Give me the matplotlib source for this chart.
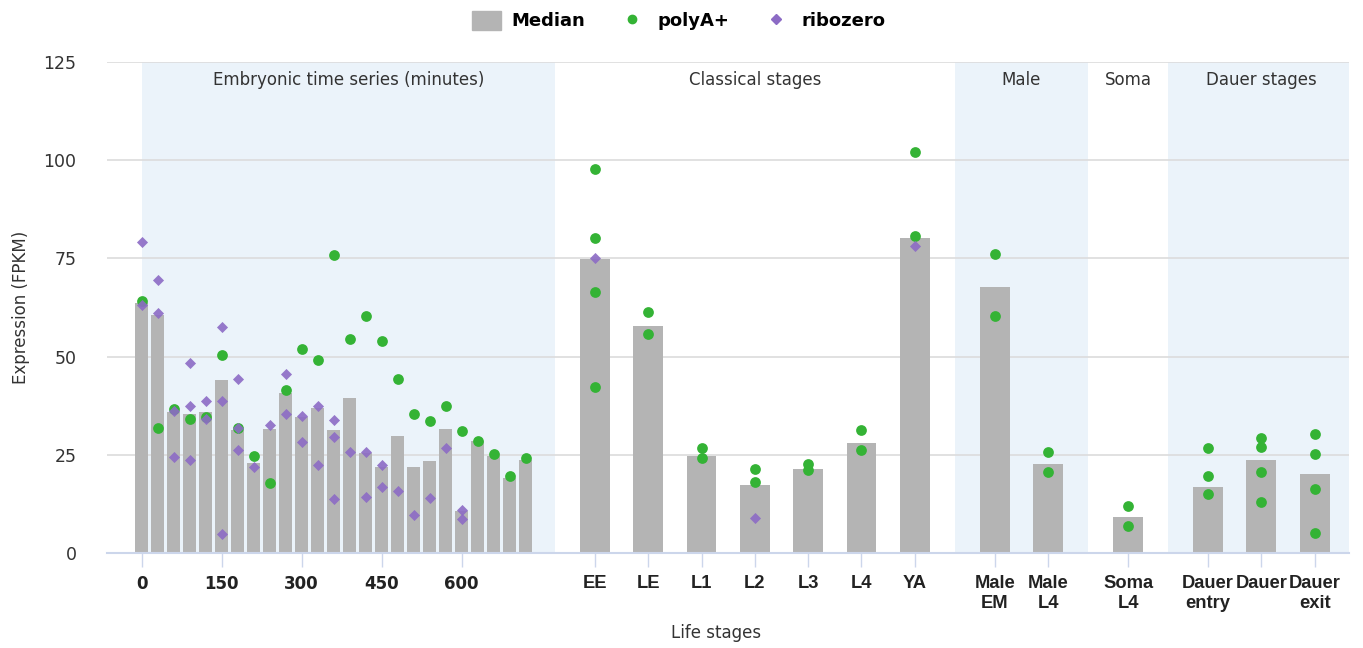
import numpy as np
import matplotlib
matplotlib.use("Agg")
from matplotlib import pyplot as plt
from matplotlib.lines import Line2D
from matplotlib.patches import Patch

# embryonic time series (minutes)
emb_minutes = [0, 30, 60, 90, 120, 150, 180, 210, 240, 270, 300, 330, 360,
               390, 420, 450, 480, 510, 540, 570, 600, 630, 660, 690, 720]
emb_median = [63.6, 60.6, 35.8, 35.4, 35.8, 44.1, 31.4, 22.9, 31.6, 40.7,
              34.6, 36.9, 31.2, 39.5, 25.4, 22.0, 29.7, 22.0, 23.4, 31.6,
              10.6, 28.4, 24.8, 19.2, 23.7]
emb_polya = [[64.2], [31.8], [36.6], [34.0], [34.6], [50.5], [31.9], [24.7],
             [17.8], [41.4], [52.0], [49.1], [75.8], [54.4], [60.3], [54.0],
             [44.3], [35.4], [33.6], [37.4], [31.1], [28.6], [25.3], [19.7],
             [24.3]]
emb_ribo = [[79.1, 63.2], [69.6, 61.0], [36.1, 24.4], [48.3, 37.5, 23.6],
            [38.6, 34.0], [57.5, 38.6, 4.9], [44.2, 31.8, 26.3], [22.0],
            [32.7], [45.5, 35.3], [34.8, 28.3], [37.5, 22.3],
            [33.9, 29.5, 13.8], [25.6], [25.8, 14.2], [22.5, 16.9], [15.7],
            [9.7], [14.1], [26.8], [11.0, 8.6], [], [], [], []]
emb_ticks = [0, 150, 300, 450, 600]

# other stages
groups = ["Classical stages", "Male", "Soma", "Dauer stages"]
group_sizes = [7, 2, 1, 3]
stage_labels = ["EE", "LE", "L1", "L2", "L3", "L4", "YA",
                "Male\nEM", "Male\nL4", "Soma\nL4",
                "Dauer\nentry", "Dauer", "Dauer\nexit"]
stage_median = [74.8, 57.9, 24.7, 17.3, 21.4, 28.1, 80.3,
                67.8, 22.7, 9.2, 16.9, 23.6, 20.2]
stage_polya = [[97.8, 80.2, 66.5, 42.2], [61.4, 55.8], [26.8, 24.2],
               [21.4, 18.0], [22.7, 21.2], [31.2, 26.3], [102.0, 80.7],
               [76.0, 60.3], [25.7, 20.7], [12.0, 7.0],
               [26.8, 19.5, 15.0], [29.4, 26.9, 20.7, 13.1],
               [30.4, 25.1, 16.4, 5.2]]
stage_ribo = [[75.2], [], [], [8.9], [], [], [78.1],
              [], [], [], [], [], []]

bar_col = "#b4b4b4"
green = "#34b335"
purple = "#8c6bc5"
band_col = "#ebf3fa"
txt = "#333333"

# x positions: embryonic in units of 100 min, stages one unit apart,
# groups separated by 1.5
emb_x = np.array(emb_minutes) / 100.0
stage_x = []
group_edges = []
pos = 8.5
for size in group_sizes:
    start = pos
    for i in range(size):
        stage_x.append(pos)
        pos += 1
    group_edges.append((start - 0.75, pos - 1 + 0.75))
    pos += 0.5
stage_x = np.array(stage_x)

fig = plt.figure(figsize=(13.63, 6.48), dpi=100)
ax = fig.add_axes([0.0785, 0.1466, 0.9115, 0.7577])

# bands
emb_band = (0, group_edges[0][0])
bands = [("Embryonic time series (minutes)", emb_band, True)]
for i, g in enumerate(groups):
    bands.append((g, group_edges[i], i % 2 == 1))
for name, (a, b), shaded in bands:
    if shaded:
        ax.axvspan(a, b, color=band_col, zorder=0, lw=0)
    ax.text((a + b) / 2, 120.3, name, ha="center", va="center",
            fontsize=12, color=txt)

ax.set_ylim(0, 125)
ax.set_xlim(-0.65, 22.65)
ax.set_yticks([0, 25, 50, 75, 100, 125])
ax.grid(axis="y", color="#dcdcdc", lw=1.2, zorder=0.5)
ax.set_axisbelow(True)

ax.bar(emb_x, emb_median, width=0.245, color=bar_col, zorder=2)
ax.bar(stage_x, stage_median, width=0.56, color=bar_col, zorder=2)

def scatter_groups(xs, vals, **kw):
    px, py = [], []
    for x, v in zip(xs, vals):
        for y in v:
            px.append(x)
            py.append(y)
    ax.scatter(px, py, **kw)

scatter_groups(emb_x, emb_polya, s=60, color=green, lw=0, zorder=3)
scatter_groups(stage_x, stage_polya, s=60, color=green, lw=0, zorder=3)
scatter_groups(emb_x, emb_ribo, s=32, marker="D", color=purple, lw=0,
               alpha=0.9, zorder=4)
scatter_groups(stage_x, stage_ribo, s=32, marker="D", color=purple, lw=0,
               alpha=0.9, zorder=4)

xt = list(np.array(emb_ticks) / 100.0) + list(stage_x)
xl = [str(t) for t in emb_ticks] + stage_labels
ax.set_xticks(xt)
ax.set_xticklabels(xl, fontsize=12, fontweight="bold", color="#222222",
                   va="top", linespacing=1.2)
for lab in ax.get_xticklabels()[len(emb_ticks):]:
    lab.set_family("Liberation Sans")
    lab.set_fontsize(13.2)
ax.tick_params(axis="x", length=10, color="#ccd6eb", width=1, pad=6)
ax.tick_params(axis="y", length=0, pad=22, labelsize=12.5, labelcolor=txt)

for s in ["top", "right", "left"]:
    ax.spines[s].set_visible(False)
ax.spines["bottom"].set_color("#ccd6eb")
ax.spines["bottom"].set_linewidth(1.5)

ax.set_xlabel("Life stages", fontsize=12, color=txt)
ax.xaxis.set_label_coords(0.49, -0.145)
ax.set_ylabel("Expression (FPKM)", fontsize=12, color=txt)
ax.yaxis.set_label_coords(-0.062, 0.5)

handles = [Patch(color=bar_col, label="Median"),
           Line2D([], [], marker="o", ls="", color=green, markersize=6,
                  label="polyA+"),
           Line2D([], [], marker="D", ls="", color=purple, markersize=5,
                  label="ribozero")]
fig.legend(handles=handles, loc="center", bbox_to_anchor=(0.498, 0.968),
           ncol=3, frameon=False, prop={"weight": "bold", "size": 13},
           handlelength=1.6, handleheight=1.2, columnspacing=1.8,
           handletextpad=0.6)

fig.savefig("out.png", dpi=100)
